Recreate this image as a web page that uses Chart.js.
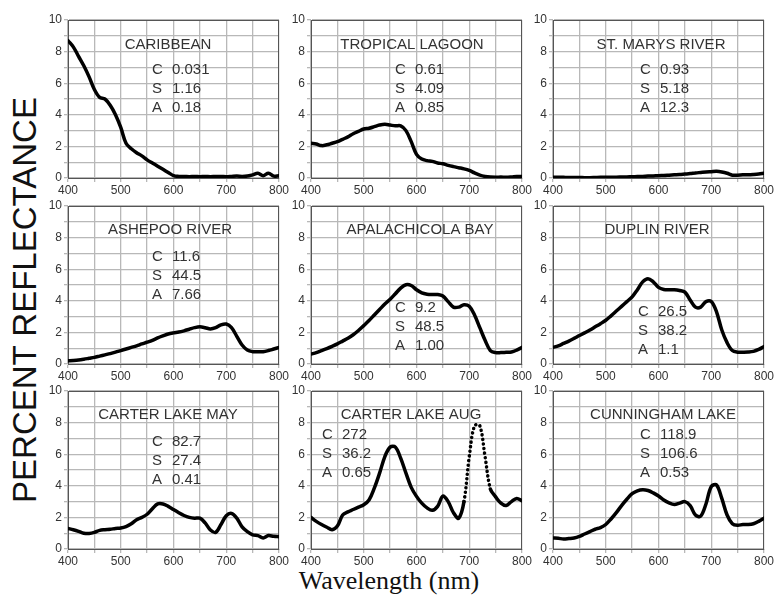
<!DOCTYPE html>
<html>
<head>
<meta charset="utf-8">
<title>Percent reflectance spectra</title>
<script src="https://cdn.jsdelivr.net/npm/chart.js@4.4.1/dist/chart.umd.min.js"></script>
<style>
  html, body { margin: 0; padding: 0; background: #fff; }
  #page { position: relative; width: 776px; height: 595px; overflow: hidden; background: #fff; }
  #page canvas { position: absolute; }
  .ytitle {
    position: absolute; left: 25px; top: 300px;
    transform: translate(-50%, -50%) rotate(-90deg);
    font: 33px "Liberation Sans", Arial, sans-serif; color: #111; white-space: nowrap;
  }
  .xtitle {
    position: absolute; left: 389px; top: 581px;
    transform: translate(-50%, -50%);
    font: 26px "Liberation Serif", "Times New Roman", serif; color: #111; white-space: nowrap;
  }
</style>
</head>
<body>
<div id="page">
  <div class="ytitle">PERCENT REFLECTANCE</div>
  <div class="xtitle">Wavelength (nm)</div>
</div>
<script>
// wavelength samples (nm), shared by every panel
const wavelengths = [400, 410, 420, 430, 440, 450, 460, 470, 480, 490,
  500, 510, 520, 530, 540, 550, 560, 570, 580, 590,
  600, 610, 620, 630, 640, 650, 660, 670, 680, 690,
  700, 710, 720, 730, 740, 750, 760, 770, 780, 790, 800];

const xTickLabels = [400, 500, 600, 700, 800];
const yTickLabels = [0, 2, 4, 6, 8, 10];

const sites = ["CARIBBEAN", "TROPICAL LAGOON", "ST. MARYS RIVER",
  "ASHEPOO RIVER", "APALACHICOLA BAY", "DUPLIN RIVER",
  "CARTER LAKE MAY", "CARTER LAKE AUG", "CUNNINGHAM LAKE"];
const chlorophyll = ["0.031", "0.61", "0.93", "11.6", "9.2", "26.5", "82.7", "272", "118.9"];
const sediment = ["1.16", "4.09", "5.18", "44.5", "48.5", "38.2", "27.4", "36.2", "106.6"];
const absorption = ["0.18", "0.85", "12.3", "7.66", "1.00", "1.1", "0.41", "0.65", "0.53"];

// percent reflectance, one value per wavelength
const caribbean = [8.7, 8.3, 7.7, 7.1, 6.4, 5.6, 5.1, 5.0, 4.6, 4.0,
  3.2, 2.2, 1.85, 1.6, 1.4, 1.15, 0.95, 0.75, 0.55, 0.35,
  0.15, 0.1, 0.1, 0.08, 0.1, 0.08, 0.1, 0.08, 0.1, 0.1,
  0.08, 0.1, 0.12, 0.1, 0.12, 0.2, 0.3, 0.15, 0.3, 0.12, 0.15];
const tropicalLagoon = [2.2, 2.15, 2.05, 2.1, 2.2, 2.3, 2.45, 2.6, 2.8, 2.95,
  3.1, 3.15, 3.25, 3.35, 3.4, 3.35, 3.3, 3.3, 3.0, 2.3,
  1.5, 1.2, 1.1, 1.05, 0.95, 0.9, 0.8, 0.72, 0.65, 0.58,
  0.48, 0.32, 0.18, 0.1, 0.06, 0.05, 0.06, 0.05, 0.07, 0.1, 0.1];
const stMarysRiver = [0.05, 0.05, 0.04, 0.03, 0.03, 0.03, 0.02, 0.02, 0.03, 0.04,
  0.04, 0.05, 0.05, 0.06, 0.07, 0.08, 0.09, 0.1, 0.12, 0.13,
  0.15, 0.16, 0.18, 0.2, 0.22, 0.25, 0.28, 0.32, 0.35, 0.38,
  0.4, 0.42, 0.38, 0.3, 0.18, 0.18, 0.2, 0.2, 0.22, 0.25, 0.3];
const ashepooRiver = [0.2, 0.22, 0.25, 0.3, 0.36, 0.42, 0.5, 0.58, 0.66, 0.75,
  0.85, 0.95, 1.05, 1.15, 1.27, 1.38, 1.5, 1.65, 1.78, 1.9,
  1.97, 2.02, 2.1, 2.2, 2.3, 2.35, 2.3, 2.22, 2.3, 2.48,
  2.53, 2.3, 1.75, 1.2, 0.88, 0.78, 0.77, 0.78, 0.85, 0.95, 1.05];
const apalachicolaBay = [0.63, 0.72, 0.85, 0.98, 1.12, 1.27, 1.45, 1.63, 1.85, 2.12,
  2.43, 2.75, 3.1, 3.45, 3.8, 4.1, 4.45, 4.8, 5.02, 4.97,
  4.7, 4.5, 4.42, 4.4, 4.4, 4.3, 3.95, 3.6, 3.6, 3.75,
  3.65, 3.1, 2.3, 1.5, 0.85, 0.72, 0.72, 0.74, 0.76, 0.88, 1.05];
const duplinRiver = [1.05, 1.15, 1.3, 1.45, 1.62, 1.8, 1.97, 2.15, 2.35, 2.55,
  2.77, 3.05, 3.35, 3.65, 3.95, 4.25, 4.7, 5.2, 5.4, 5.2,
  4.85, 4.72, 4.7, 4.7, 4.65, 4.55, 4.05, 3.6, 3.6, 3.95,
  3.95, 3.3, 2.15, 1.35, 0.85, 0.75, 0.75, 0.76, 0.8, 0.92, 1.1];
const carterLakeMay = [1.3, 1.22, 1.12, 1.0, 0.98, 1.05, 1.18, 1.22, 1.25, 1.3,
  1.33, 1.42, 1.6, 1.85, 2.0, 2.2, 2.55, 2.85, 2.85, 2.7,
  2.5, 2.3, 2.12, 2.0, 1.95, 1.95, 1.65, 1.2, 1.05, 1.55,
  2.1, 2.25, 1.95, 1.4, 1.1, 0.9, 0.85, 0.7, 0.85, 0.8, 0.78];
const carterLakeAug = [2.0, 1.75, 1.55, 1.38, 1.22, 1.45, 2.15, 2.35, 2.5, 2.65,
  2.8, 3.1, 3.85, 4.8, 5.85, 6.45, 6.45, 5.75, 4.8, 3.9,
  3.33, 2.9, 2.6, 2.45, 2.7, 3.35, 3.0, 2.3, 1.95, 3.0,
  5.85, 7.8, 7.8, 5.85, 3.8, 3.3, 2.9, 2.75, 3.0, 3.2, 3.05];
const cunninghamLake = [0.7, 0.68, 0.63, 0.66, 0.7, 0.8, 0.95, 1.1, 1.25, 1.35,
  1.55, 1.9, 2.3, 2.75, 3.15, 3.5, 3.68, 3.75, 3.7, 3.55,
  3.35, 3.1, 2.92, 2.82, 2.9, 3.0, 2.75, 2.15, 2.08, 2.85,
  3.95, 4.05, 3.2, 2.15, 1.6, 1.5, 1.55, 1.55, 1.6, 1.75, 1.95];

const reflectance = [caribbean, tropicalLagoon, stMarysRiver,
  ashepooRiver, apalachicolaBay, duplinRiver,
  carterLakeMay, carterLakeAug, cunninghamLake];

// sparse (dotted) stretch of the Carter Lake Aug record
const dottedStretch = [null, null, null, null, null, null, null, [690, 740], null];

// page layout
const plotLefts = [68, 311, 553];
const plotTops = [20, 206, 391];
const PLOT_W = 211;
const PLOT_H = 158;
const AXIS_W = 30;
const AXIS_H = 22;
const PAD_TOP = 10;
const PAD_RIGHT = 14;

// where the site name and the C/S/A block sit, in px from the plot's top-left
const textSpots = [
  { tx: 100, ty: 25, cx: 84, cy: 50 },
  { tx: 101, ty: 25, cx: 84, cy: 50 },
  { tx: 108, ty: 25, cx: 87, cy: 50 },
  { tx: 102, ty: 24, cx: 84, cy: 51 },
  { tx: 109, ty: 24, cx: 84, cy: 102 },
  { tx: 104, ty: 24, cx: 85, cy: 106 },
  { tx: 100, ty: 24, cx: 84, cy: 51 },
  { tx: 100, ty: 24, cx: 11, cy: 44 },
  { tx: 110, ty: 24, cx: 87, cy: 44 },
];

const TEXT_COLOR = "#333";
const GRID_COLOR = "#b8b8b8";
const FRAME_COLOR = "#555";

const panelText = {
  id: "panelText",
  beforeDatasetsDraw(chart, args, opts) {
    const { ctx, chartArea: a } = chart;
    const i = opts.index;
    const spot = textSpots[i];
    ctx.save();
    ctx.strokeStyle = FRAME_COLOR;
    ctx.lineWidth = 1;
    ctx.strokeRect(a.left + 0.5, a.top + 0.5, a.width - 1, a.height);

    ctx.fillStyle = TEXT_COLOR;
    ctx.font = '15px "Liberation Sans", Arial, sans-serif';
    ctx.textBaseline = "middle";
    ctx.textAlign = "center";
    ctx.fillText(sites[i], a.left + spot.tx, a.top + spot.ty);

    ctx.textAlign = "left";
    const rows = [["C", chlorophyll[i]], ["S", sediment[i]], ["A", absorption[i]]];
    rows.forEach((row, k) => {
      const y = a.top + spot.cy + k * 18.7;
      ctx.fillText(row[0], a.left + spot.cx, y);
      ctx.fillText(row[1], a.left + spot.cx + 20, y);
    });
    ctx.restore();
  },
};

const page = document.getElementById("page");

reflectance.forEach((values, i) => {
  const col = i % 3;
  const row = Math.floor(i / 3);
  const canvas = document.createElement("canvas");
  canvas.width = AXIS_W + PLOT_W + PAD_RIGHT;
  canvas.height = PAD_TOP + PLOT_H + AXIS_H;
  canvas.style.left = (plotLefts[col] - AXIS_W) + "px";
  canvas.style.top = (plotTops[row] - PAD_TOP) + "px";
  page.appendChild(canvas);

  const dots = dottedStretch[i];

  new Chart(canvas, {
    type: "line",
    data: {
      datasets: [
        {
          label: sites[i],
          data: wavelengths.map((w, k) => ({ x: w, y: values[k] })),
          borderColor: "#000",
          borderWidth: 3.5,
          borderCapStyle: "round",
          borderJoinStyle: "round",
          pointRadius: 0,
          tension: 0.35,
          fill: false,
          segment: {
            borderDash: (ctx) =>
              dots && ctx.p0.parsed.x >= dots[0] && ctx.p1.parsed.x <= dots[1] ? [0.1, 4.5] : undefined,
          },
        },
      ],
    },
    plugins: [panelText],
    options: {
      responsive: false,
      animation: false,
      events: [],
      layout: {
        padding: { top: PAD_TOP, right: PAD_RIGHT, left: 0, bottom: 0 },
      },
      plugins: {
        legend: { display: false },
        tooltip: { enabled: false },
        panelText: { index: i },
      },
      scales: {
        x: {
          type: "linear",
          min: 400,
          max: 800,
          afterFit(scale) {
            scale.height = AXIS_H;
          },
          ticks: {
            stepSize: 50,
            autoSkip: false,
            maxRotation: 0,
            padding: 1,
            color: "#333",
            font: { family: '"Liberation Sans", Arial, sans-serif', size: 12 },
            callback: (v) => (xTickLabels.includes(v) ? String(v) : ""),
          },
          grid: { color: GRID_COLOR, lineWidth: 1.3, tickLength: 4 },
          border: { color: FRAME_COLOR },
        },
        y: {
          min: 0,
          max: 10,
          afterFit(scale) {
            scale.width = AXIS_W;
          },
          ticks: {
            stepSize: 1,
            autoSkip: false,
            padding: 2,
            color: "#333",
            font: { family: '"Liberation Sans", Arial, sans-serif', size: 12 },
            callback: (v) => (yTickLabels.includes(v) ? String(v) : ""),
          },
          grid: { color: GRID_COLOR, lineWidth: 1.3, tickLength: 4 },
          border: { color: FRAME_COLOR },
        },
      },
    },
  });
});
</script>
</body>
</html>
